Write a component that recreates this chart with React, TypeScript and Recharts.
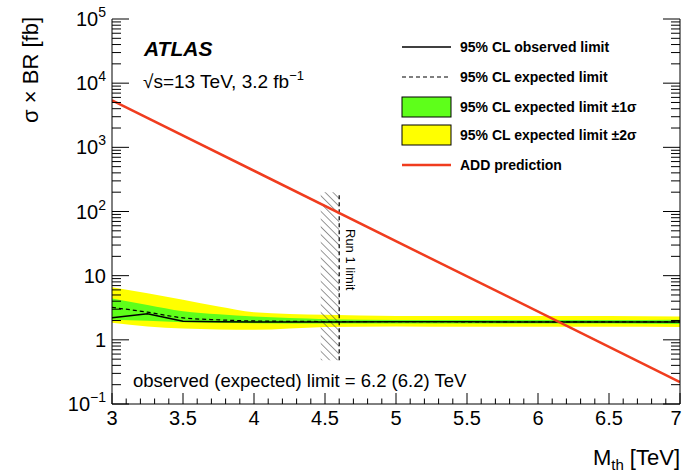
import React from "react";
import {
  ComposedChart, Area, Line, XAxis, YAxis, ReferenceArea, ReferenceLine, Legend,
} from "recharts";

// Mth in TeV, limits in fb
const mass = [3, 3.25, 3.5, 3.75, 4, 4.5, 5, 5.5, 6, 6.5, 7];
const observed = [2.2, 2.55, 1.95, 1.92, 1.9, 1.9, 1.91, 1.91, 1.9, 1.9, 1.9];
const expected = [3.2, 2.7, 2.2, 2.05, 1.97, 1.93, 1.92, 1.91, 1.9, 1.9, 1.9];
const green1Lo = [2.05, 1.98, 1.88, 1.84, 1.82, 1.8, 1.8, 1.8, 1.8, 1.8, 1.76];
const green1Hi = [4.4, 3.5, 2.8, 2.5, 2.3, 2.1, 2.04, 2.03, 2.03, 2.03, 2.06];
const yellowLo = [1.85, 1.62, 1.5, 1.45, 1.43, 1.58, 1.62, 1.6, 1.6, 1.6, 1.58];
const yellowHi = [6.6, 5.3, 4.2, 3.3, 2.7, 2.45, 2.36, 2.35, 2.36, 2.35, 2.3];

const addMass = [3, 7];
const addXsec = [5400, 0.22];

const run1Mass = [4.47, 4.6];
const run1Y = [0.48, 200];

const xMajor = [3, 3.5, 4, 4.5, 5, 5.5, 6, 6.5, 7];
const yDecades = [0.1, 1, 10, 100, 1000, 10000, 100000];

const legendLabels = [
  "95% CL observed limit",
  "95% CL expected limit",
  "95% CL expected limit \u00b11\u03c3",
  "95% CL expected limit \u00b12\u03c3",
  "ADD prediction",
];

const GREEN = "#5eff1a";
const YELLOW = "#ffff00";
const RED = "#f03c1e";
const FONT = "'Liberation Sans', Arial, sans-serif";

const data = mass.map((m, i) => ({
  m,
  obs: observed[i],
  exp: expected[i],
  g1: [green1Lo[i], green1Hi[i]],
  y2: [yellowLo[i], yellowHi[i]],
}));
const addData = addMass.map((m, i) => ({ m, add: addXsec[i] }));

const xTicks: number[] = [];
for (let i = 30; i <= 70; i++) xTicks.push(i / 10);
const yTicks: number[] = [];
yDecades.forEach((d, k) => {
  yTicks.push(d);
  if (k < yDecades.length - 1) for (let j = 2; j <= 9; j++) yTicks.push(+(d * j).toPrecision(3));
});

const isXMajor = (v: number) => xMajor.some((t) => Math.abs(t - v) < 1e-6);
const isYMajor = (v: number) => yDecades.some((t) => Math.abs(t - v) / t < 1e-6);

const decadeLabel = (v: number) => {
  const e = Math.round(Math.log10(v));
  if (e === 0) return <tspan>1</tspan>;
  if (e === 1) return <tspan>10</tspan>;
  return (
    <>
      <tspan>10</tspan>
      <tspan fontSize={14} dy={-9}>{e < 0 ? "\u2212" + -e : e}</tspan>
    </>
  );
};

const BottomTick = (p: any) => {
  const v = p.payload.value;
  const major = isXMajor(v);
  const last = v === xMajor[xMajor.length - 1];
  return (
    <g>
      <line x1={p.x} x2={p.x} y1={p.y} y2={p.y - (major ? 11 : 5.5)} stroke="#000" />
      {major && (
        <text x={last ? p.x - 4 : p.x} y={p.y + 21} textAnchor="middle" fontSize={20} fontFamily={FONT} fill="#000">
          {v}
        </text>
      )}
    </g>
  );
};

const TopTick = (p: any) => {
  const major = isXMajor(p.payload.value);
  return <line x1={p.x} x2={p.x} y1={p.y} y2={p.y + (major ? 11 : 5.5)} stroke="#000" />;
};

const LeftTick = (p: any) => {
  const v = p.payload.value;
  const major = isYMajor(v);
  return (
    <g>
      <line x1={p.x} x2={p.x + (major ? 17 : 9)} y1={p.y} y2={p.y} stroke="#000" />
      {major && (
        <text x={p.x - 6} y={p.y + 7} textAnchor="end" fontSize={20} fontFamily={FONT} fill="#000">
          {decadeLabel(v)}
        </text>
      )}
    </g>
  );
};

const RightTick = (p: any) => {
  const major = isYMajor(p.payload.value);
  return <line x1={p.x} x2={p.x - (major ? 17 : 9)} y1={p.y} y2={p.y} stroke="#000" />;
};

const LegendBox = () => {
  const rows = [17, 47, 77, 105, 135];
  return (
    <svg width={285} height={150} style={{ display: "block" }}>
      <line x1={7} x2={56} y1={rows[0]} y2={rows[0]} stroke="#000" strokeWidth={1.5} />
      <line x1={7} x2={56} y1={rows[1]} y2={rows[1]} stroke="#000" strokeWidth={1.2} strokeDasharray="4 3" />
      <rect x={7} y={rows[2] - 10} width={49} height={20} fill={GREEN} stroke="#000" />
      <rect x={7} y={rows[3] - 10} width={49} height={20} fill={YELLOW} stroke="#000" />
      <line x1={7} x2={56} y1={rows[4]} y2={rows[4]} stroke={RED} strokeWidth={2.5} />
      {legendLabels.map((t, i) => (
        <text key={t} x={65} y={rows[i] + 5} fontSize={14} fontWeight="bold" fontFamily={FONT} fill="#000">
          {t}
        </text>
      ))}
    </svg>
  );
};

export default function App() {
  return (
    <div style={{ position: "absolute", left: 0, top: 0, width: 683, height: 472, background: "#fff" }}>
      <svg width={0} height={0} style={{ position: "absolute" }}>
        <defs>
          <pattern id="hatch" patternUnits="userSpaceOnUse" width={5.5} height={5.5} patternTransform="rotate(-45)">
            <line x1={0} y1={0} x2={0} y2={5.5} stroke="#444" strokeWidth={1.1} />
          </pattern>
        </defs>
      </svg>
      <ComposedChart width={683} height={472} data={data} margin={{ top: 19, right: 0, bottom: 0, left: 0 }}>
        <XAxis
          dataKey="m" type="number" domain={[3, 7]} allowDataOverflow ticks={xTicks} interval={0}
          tickSize={0} tickMargin={0} tickLine={false} tick={BottomTick} height={68}
          axisLine={{ stroke: "#000" }}
        />
        <XAxis
          xAxisId="top" orientation="top" dataKey="m" type="number" domain={[3, 7]} allowDataOverflow
          ticks={xTicks} interval={0} tickSize={0} tickMargin={0} tickLine={false} tick={TopTick} height={0}
          axisLine={{ stroke: "#000" }}
        />
        <YAxis
          scale="log" type="number" domain={[0.1, 100000]} allowDataOverflow ticks={yTicks} interval={0}
          tickSize={0} tickMargin={0} tickLine={false} tick={LeftTick} width={112}
          axisLine={{ stroke: "#000" }}
        />
        <YAxis
          yAxisId="right" orientation="right" scale="log" type="number" domain={[0.1, 100000]} allowDataOverflow
          ticks={yTicks} interval={0} tickSize={0} tickMargin={0} tickLine={false} tick={RightTick} width={3}
          axisLine={{ stroke: "#000" }}
        />
        <Area dataKey="y2" type="monotone" fill={YELLOW} fillOpacity={1} stroke="none" isAnimationActive={false} />
        <Area dataKey="g1" type="monotone" fill={GREEN} fillOpacity={1} stroke="none" isAnimationActive={false} />
        <ReferenceArea
          x1={run1Mass[0]} x2={run1Mass[1]} y1={run1Y[0]} y2={run1Y[1]}
          fill="url(#hatch)" fillOpacity={1} stroke="none" ifOverflow="visible"
        />
        <ReferenceLine
          segment={[{ x: run1Mass[1], y: run1Y[0] }, { x: run1Mass[1], y: run1Y[1] }]}
          stroke="#000" strokeWidth={1.2} strokeDasharray="4 3" ifOverflow="visible"
        />
        <Line dataKey="exp" type="monotone" stroke="#000" strokeWidth={1.2} strokeDasharray="4 3" dot={false} isAnimationActive={false} />
        <Line dataKey="obs" type="linear" stroke="#000" strokeWidth={1.5} dot={false} isAnimationActive={false} />
        <Line data={addData} dataKey="add" type="linear" stroke={RED} strokeWidth={2.5} dot={false} isAnimationActive={false} />
        <Legend
          layout="horizontal" verticalAlign="middle" align="center" content={<LegendBox />}
          wrapperStyle={{ position: "absolute", left: 395, top: 30, width: 285, height: 150 }}
        />
      </ComposedChart>
      <svg width={683} height={472} style={{ position: "absolute", left: 0, top: 0, pointerEvents: "none" }} fontFamily={FONT}>
        <text x={144} y={56} fontSize={21} fontWeight="bold" fontStyle="italic">ATLAS</text>
        <text x={143} y={88} fontSize={19}>
          <tspan>{"\u221as=13 TeV, 3.2 fb"}</tspan>
          <tspan fontSize={13} dy={-8}>{"\u22121"}</tspan>
        </text>
        <text x={133} y={387} fontSize={18.5}>observed (expected) limit = 6.2 (6.2) TeV</text>
        <text x={346} y={229} fontSize={13} transform="rotate(90, 346, 229)">Run 1 limit</text>
        <text x={38} y={17} fontSize={22} textAnchor="end" transform="rotate(-90, 38, 17)">
          {"\u03c3 \u00d7 BR [fb]"}
        </text>
        <text x={680} y={465} fontSize={22} textAnchor="end">
          <tspan>M</tspan>
          <tspan fontSize={15} dy={5}>th</tspan>
          <tspan dy={-5}> [TeV]</tspan>
        </text>
      </svg>
    </div>
  );
}
